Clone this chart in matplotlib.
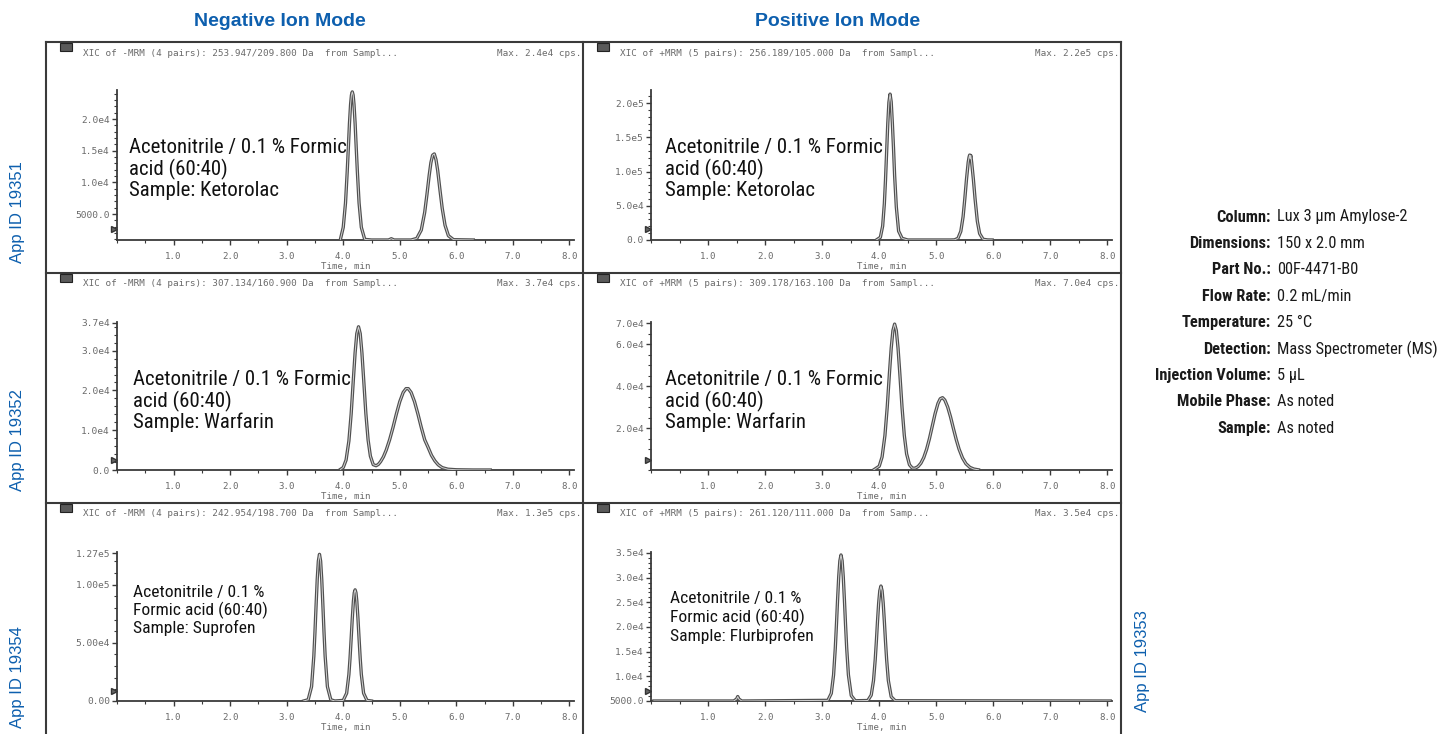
import matplotlib
matplotlib.use('Agg')
import matplotlib.pyplot as plt
from matplotlib import font_manager
from matplotlib.font_manager import FontProperties
from matplotlib.lines import Line2D
from matplotlib.patches import Rectangle
from matplotlib.ticker import FixedLocator, MultipleLocator

W, H = 1442, 734

# chromatogram traces: time (min) / intensity (cps)
neg_keto_t = [3.95, 4.00, 4.04, 4.07, 4.09, 4.11, 4.13, 4.145, 4.16, 4.175, 4.19, 4.21, 4.23, 4.25,
              4.28, 4.32, 4.38, 4.50, 4.80, 4.85, 4.90, 5.20, 5.30, 5.38, 5.44, 5.48, 5.52, 5.55,
              5.58, 5.61, 5.64, 5.67, 5.71, 5.75, 5.80, 5.86, 5.95, 6.30]
neg_keto_y = [1000, 2900, 6750, 11660, 15400, 19300, 22360, 23790, 24300, 23790, 22360, 19300, 15400, 11660,
              6750, 2900, 1000, 900, 900, 1100, 900, 900, 1150, 2480, 5270, 8090, 11140, 13120,
              14300, 14500, 13590, 11870, 8820, 5910, 3220, 1570, 950, 900]

pos_keto_t = [3.95, 4.02, 4.06, 4.09, 4.11, 4.13, 4.15, 4.17, 4.19, 4.21, 4.23, 4.25, 4.27, 4.30,
              4.34, 4.40, 4.50, 5.25, 5.32, 5.38, 5.43, 5.47, 5.50, 5.53, 5.56, 5.575, 5.585,
              5.595, 5.605, 5.62, 5.65, 5.68, 5.72, 5.76, 5.82, 5.90, 5.98]
pos_keto_y = [0, 3900, 20300, 53000, 87500, 129000, 170000, 201000, 213000, 201500, 171000, 135000, 94000, 48000,
              13000, 2500, 0, 0, 200, 2450, 12600, 34000, 60000, 89000, 113500, 121000, 124000,
              118500, 123500, 113500, 89000, 60000, 27400, 9400, 1100, 100, 0]

neg_warf_t = [3.95, 4.00, 4.05, 4.10, 4.14, 4.18, 4.21, 4.24, 4.27, 4.30, 4.33, 4.36, 4.40, 4.44,
              4.48, 4.53, 4.58, 4.62, 4.66, 4.71, 4.76, 4.82, 4.88, 4.94, 5.00, 5.06, 5.11, 5.15,
              5.20, 5.26, 5.32, 5.38, 5.44, 5.50, 5.56, 5.62, 5.68, 5.75, 5.85, 6.00, 6.30, 6.60]
neg_warf_y = [150, 630, 2500, 7300, 14100, 23000, 29500, 34300, 36000, 34300, 29500, 23000, 14200, 7500,
              3500, 1350, 1080, 1400, 2100, 3300, 5000, 7600, 10700, 14100, 17200, 19500, 20450, 20450,
              19500, 17200, 14100, 10700, 7600, 5700, 3700, 2300, 1300, 600, 200, 60, 0, 0]

pos_warf_t = [3.90, 4.00, 4.05, 4.10, 4.14, 4.18, 4.21, 4.24, 4.27, 4.30, 4.33, 4.36, 4.40, 4.44,
              4.48, 4.53, 4.58, 4.63, 4.68, 4.73, 4.78, 4.83, 4.88, 4.93, 4.98, 5.03, 5.07, 5.11,
              5.15, 5.20, 5.25, 5.30, 5.35, 5.40, 5.46, 5.52, 5.59, 5.66, 5.74]
pos_warf_y = [0, 1800, 6200, 16400, 29800, 46400, 58000, 66400, 69500, 66400, 58000, 46400, 29800, 16400,
              7700, 2500, 890, 870, 1630, 3230, 5870, 9800, 14900, 20900, 26900, 31700, 33950, 34450,
              33300, 30000, 25300, 19800, 14500, 9900, 5730, 3000, 1240, 450, 80]

neg_supro_t = [3.30, 3.38, 3.44, 3.48, 3.50, 3.52, 3.54, 3.56, 3.58, 3.60, 3.62, 3.64, 3.66, 3.68,
               3.72, 3.78, 3.85, 4.00, 4.06, 4.10, 4.12, 4.14, 4.16, 4.18, 4.195, 4.21, 4.225,
               4.24, 4.26, 4.28, 4.30, 4.32, 4.36, 4.42, 4.50]
neg_supro_y = [0, 1100, 12400, 38600, 59100, 82300, 104300, 120200, 126000, 120200, 104300, 82300, 59100, 38600,
               12400, 1100, 0, 500, 6700, 22800, 36600, 53500, 71000, 85800, 93000, 95500, 93000,
               85800, 71000, 53500, 36600, 22800, 6700, 500, 0]

pos_flurbi_t = [0.05, 1.45, 1.50, 1.52, 1.54, 1.59, 3.10, 3.16, 3.20, 3.23, 3.25, 3.27, 3.29, 3.31,
                3.33, 3.35, 3.37, 3.39, 3.41, 3.43, 3.46, 3.51, 3.58, 3.80, 3.86, 3.90, 3.93, 3.95,
                3.97, 3.99, 4.01, 4.03, 4.05, 4.07, 4.09, 4.11, 4.13, 4.16, 4.21, 4.28, 8.05]
pos_flurbi_y = [5000, 5000, 5400, 5900, 5400, 5000, 5130, 6550, 10300, 15700, 20400, 25500, 30150, 33400,
                34600, 33400, 30150, 25500, 20400, 15700, 10300, 6100, 5050, 5100, 6200, 9150, 13400, 17100,
                21150, 24800, 27350, 28300, 27350, 24800, 21150, 17100, 13400, 9150, 5860, 5050, 5000]

# axis scales and labels per panel
ylims = [(900, 24600), (0, 2.19e5), (0, 3.72e4), (0, 7.05e4), (0, 1.28e5), (5000, 3.52e4)]
yticks = [[5000, 10000, 15000, 20000],
          [0, 5e4, 1e5, 1.5e5, 2e5],
          [0, 1e4, 2e4, 3e4, 3.7e4],
          [2e4, 4e4, 6e4, 7e4],
          [0, 5e4, 1e5, 1.27e5],
          [5000, 1e4, 1.5e4, 2e4, 2.5e4, 3e4, 3.5e4]]
ytick_labels = [['5000.0', '1.0e4', '1.5e4', '2.0e4'],
                ['0.0', '5.0e4', '1.0e5', '1.5e5', '2.0e5'],
                ['0.0', '1.0e4', '2.0e4', '3.0e4', '3.7e4'],
                ['2.0e4', '4.0e4', '6.0e4', '7.0e4'],
                ['0.00', '5.00e4', '1.00e5', '1.27e5'],
                ['5000.0', '1.0e4', '1.5e4', '2.0e4', '2.5e4', '3.0e4', '3.5e4']]
yminor = [1000, 1e4, 2000, 5000, 1e4, 1000]
xticks = [1, 2, 3, 4, 5, 6, 7, 8]
xtick_labels = ['1.0', '2.0', '3.0', '4.0', '5.0', '6.0', '7.0', '8.0']

headers = ['XIC of -MRM (4 pairs): 253.947/209.800 Da  from Sampl...',
           'XIC of +MRM (5 pairs): 256.189/105.000 Da  from Sampl...',
           'XIC of -MRM (4 pairs): 307.134/160.900 Da  from Sampl...',
           'XIC of +MRM (5 pairs): 309.178/163.100 Da  from Sampl...',
           'XIC of -MRM (4 pairs): 242.954/198.700 Da  from Sampl...',
           'XIC of +MRM (5 pairs): 261.120/111.000 Da  from Samp...']
max_labels = ['Max. 2.4e4 cps.', 'Max. 2.2e5 cps.', 'Max. 3.7e4 cps.',
              'Max. 7.0e4 cps.', 'Max. 1.3e5 cps.', 'Max. 3.5e4 cps.']
notes = [['Acetonitrile / 0.1 % Formic', 'acid (60:40)', 'Sample: Ketorolac'],
         ['Acetonitrile / 0.1 % Formic', 'acid (60:40)', 'Sample: Ketorolac'],
         ['Acetonitrile / 0.1 % Formic', 'acid (60:40)', 'Sample: Warfarin'],
         ['Acetonitrile / 0.1 % Formic', 'acid (60:40)', 'Sample: Warfarin'],
         ['Acetonitrile / 0.1 %', 'Formic acid (60:40)', 'Sample: Suprofen'],
         ['Acetonitrile / 0.1 %', 'Formic acid (60:40)', 'Sample: Flurbiprofen']]
app_ids = ['App ID 19351', 'App ID 19352', 'App ID 19354', 'App ID 19353']
col_titles = ['Negative Ion Mode', 'Positive Ion Mode']
cond_keys = ['Column:', 'Dimensions:', 'Part No.:', 'Flow Rate:', 'Temperature:', 'Detection:',
             'Injection Volume:', 'Mobile Phase:', 'Sample:']
cond_vals = ['Lux 3 \u00b5m Amylose-2', '150 x 2.0 mm', '00F-4471-B0', '0.2 mL/min',
             '25 \u00b0C', 'Mass Spectrometer (MS)', '5 \u00b5L', 'As noted', 'As noted']

traces = [(neg_keto_t, neg_keto_y), (pos_keto_t, pos_keto_y),
          (neg_warf_t, neg_warf_y), (pos_warf_t, pos_warf_y),
          (neg_supro_t, neg_supro_y), (pos_flurbi_t, pos_flurbi_y)]


def _wnum(w):
    table = {'thin': 100, 'light': 300, 'normal': 400, 'regular': 400, 'book': 400,
             'medium': 500, 'semibold': 600, 'demibold': 600, 'bold': 700, 'heavy': 800, 'black': 900}
    return w if isinstance(w, (int, float)) else table.get(str(w).lower(), 400)


def _condensed(f):
    st = f.stretch
    if isinstance(st, (int, float)):
        return st < 500
    return 'condensed' in str(st) or 'Narrow' in f.name or 'Condensed' in f.name


def pick_narrow(weight):
    # a condensed sans close to Helvetica Condensed, if one is installed
    order = ['Liberation Sans Narrow', 'Roboto Condensed', 'Noto Sans', 'Open Sans',
             'DejaVu Sans', 'Noto Sans Display', 'Lato', 'Inter']
    best = None
    for f in font_manager.fontManager.ttflist:
        if f.style != 'normal' or not _condensed(f):
            continue
        fam = f.name
        rank = order.index(fam) if fam in order else len(order)
        st = str(f.stretch)
        srank = 0 if st in ('condensed', '300') else (1 if 'semi' in st else 2)
        key = (rank, srank, abs(_wnum(f.weight) - weight))
        if best is None or key < best[0]:
            best = (key, f.fname)
    if best is None:
        return None
    return FontProperties(fname=best[1])


fp_reg = pick_narrow(400)
fp_bold = pick_narrow(700)
shrink = 1.0
if fp_reg is None:
    fp_reg = FontProperties(family='Roboto')
    fp_bold = FontProperties(family='Roboto', weight='bold')
    shrink = 0.84

SANS = 'Liberation Sans'
MONO = 'DejaVu Sans Mono'
BLUE = '#0d5fae'
GREY = '#6a6a6a'
LINE = '#3a3a3a'


def fx(px):
    return px / W


def fy(py):
    return 1 - py / H


fig = plt.figure(figsize=(W / 100, H / 100), dpi=100)

# panel geometry in pixels
col_x = [(117, 574), (651, 1112)]
row_y = [(90, 240), (322, 470), (552, 701)]
frame_top = [42, 273, 503]
col_frame = [(46, 583), (583, 1121)]
note_x = [129, 665, 133, 665, 133, 670]
note_y = [(147, 169, 191), (147, 169, 191), (379, 401, 422), (379, 401, 422),
          (592, 610, 628), (598, 617, 636)]
note_size = [15.0, 15.0, 15.0, 15.0, 12.6, 12.6]

for i in range(6):
    r, c = divmod(i, 2)
    x0, x1 = col_x[c]
    y0, y1 = row_y[r]
    ax = fig.add_axes([fx(x0), fy(y1), (x1 - x0) / W, (y1 - y0) / H])
    ax.set_facecolor('none')
    t, y = traces[i]
    ax.plot(t, y, color='#505050', lw=2.4, solid_joinstyle='round', zorder=3)
    ax.plot(t, y, color='#d2d2d2', lw=0.7, zorder=4)
    ax.set_xlim(0, 8.08)
    ax.set_ylim(*ylims[i])
    for s in ('top', 'right'):
        ax.spines[s].set_visible(False)
    for s in ('left', 'bottom'):
        ax.spines[s].set_color(LINE)
        ax.spines[s].set_linewidth(1.3)
    ax.xaxis.set_major_locator(FixedLocator(xticks))
    ax.set_xticklabels(xtick_labels)
    ax.xaxis.set_minor_locator(MultipleLocator(0.5))
    ax.yaxis.set_major_locator(FixedLocator(yticks[i]))
    ax.set_yticklabels(ytick_labels[i])
    ax.yaxis.set_minor_locator(MultipleLocator(yminor[i]))
    ax.tick_params(which='major', length=3.5, width=1.0, color=LINE, labelcolor=GREY,
                   labelsize=6.6, pad=5)
    ax.tick_params(which='minor', length=2, width=0.8, color=LINE)
    ax.tick_params(axis='y', which='major', pad=1.5, labelsize=6.8)
    for lab in ax.get_xticklabels() + ax.get_yticklabels():
        lab.set_family(MONO)
    ax.set_xlabel('Time, min', family=MONO, fontsize=6.6, color=GREY, labelpad=1)
    # little start marker at the foot of the y axis
    ax.plot([-0.006], [0.07], marker='>', ms=5, color='#666666', mec='#333333',
            transform=ax.transAxes, clip_on=False)

    # header strip of each cell
    fl, fr = col_frame[c]
    ft = frame_top[r]
    fig.add_artist(Rectangle((fx(fl + 14), fy(ft + 9)), 12 / W, 8 / H,
                             facecolor='#5a5a5a', edgecolor='#222222', lw=0.8))
    fig.text(fx(fl + 37), fy(ft + 11), headers[i], family=MONO, fontsize=6.7,
             color=GREY, va='center', ha='left')
    fig.text(fx(fr - 2), fy(ft + 11), max_labels[i], family=MONO, fontsize=6.7,
             color=GREY, va='center', ha='right')

    for line, ly in zip(notes[i], note_y[i]):
        fig.text(fx(note_x[i]), fy(ly), line, fontproperties=fp_reg,
                 fontsize=note_size[i] * shrink, color='#111111', va='center', ha='left')

# cell frames
for xv in (46, 583, 1121):
    fig.add_artist(Line2D([fx(xv), fx(xv)], [fy(42), 0], color=LINE, lw=1.5))
for yv in frame_top:
    fig.add_artist(Line2D([fx(46), fx(1121)], [fy(yv), fy(yv)], color=LINE, lw=1.5))

# column titles
for title, cx in zip(col_titles, (280, 838)):
    fig.text(fx(cx), fy(21), title, family=SANS, fontweight='bold', fontsize=14,
             color=BLUE, ha='center', va='center')

# row ids
for label, (ax_, ay) in zip(app_ids, [(18, 212), (18, 440), (18, 677), (1142, 661)]):
    fig.text(fx(ax_), fy(ay), label, family=SANS, fontsize=12, color=BLUE,
             rotation=90, ha='center', va='center')

# conditions block
for k, (key, val) in enumerate(zip(cond_keys, cond_vals)):
    yy = 217 + k * 26.4
    fig.text(fx(1271), fy(yy), key, fontproperties=fp_bold, fontsize=11.8 * shrink,
             color='#1a1a1a', ha='right', va='center')
    fig.text(fx(1277), fy(yy), val, fontproperties=fp_reg, fontsize=11.8 * shrink,
             color='#1a1a1a', ha='left', va='center')

fig.savefig('out.png', dpi=100)
